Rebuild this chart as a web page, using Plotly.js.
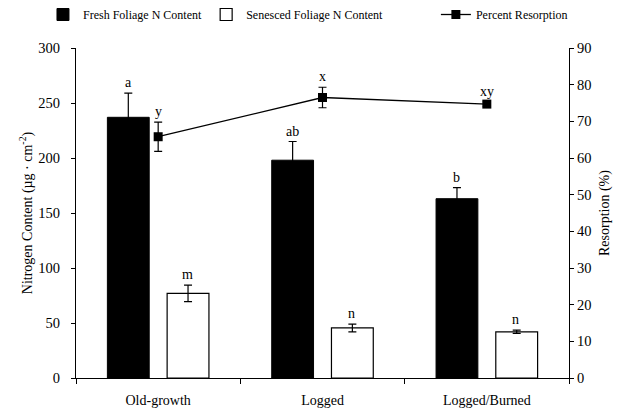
<!DOCTYPE html>
<html>
<head>
<meta charset="utf-8">
<script src="https://cdn.plot.ly/plotly-3.0.1.min.js"></script>
<style>html,body{margin:0;padding:0;background:#fff;}#chart{width:626px;height:410px;}</style>
</head>
<body>
<div id="chart"></div>
<script>
var categories = ['Old-growth', 'Logged', 'Logged/Burned'];
var freshN = [237, 198, 163];
var freshErr = [22, 17, 10];
var senescedN = [77, 45.5, 42];
var senescedErr = [7.5, 3.5, 1.5];
var resorption = [65.8, 76.5, 74.7];
var resorptionErr = [4, 2.8, 0.6];
var freshLetters = ['a', 'ab', 'b'];
var senescedLetters = ['m', 'n', 'n'];
var resorptionLetters = ['y', 'x', 'xy'];

var FONT = '"Liberation Serif", "Times New Roman", serif';

var traces = [
  {
    type: 'bar', name: 'Fresh Foliage N Content', x: categories, y: freshN, legend: 'legend',
    marker: {color: '#000', line: {color: '#000', width: 1}},
    error_y: {type: 'data', array: freshErr, visible: true, color: '#000', thickness: 1.2, width: 4}
  },
  {
    type: 'bar', name: 'Senesced Foliage N Content', x: categories, y: senescedN, legend: 'legend2',
    marker: {color: '#fff', line: {color: '#000', width: 1.2}},
    error_y: {type: 'data', array: senescedErr, visible: true, color: '#000', thickness: 1.2, width: 4}
  },
  {
    type: 'scatter', mode: 'lines+markers', name: 'Percent Resorption', x: categories, y: resorption,
    yaxis: 'y2', legend: 'legend3',
    line: {color: '#000', width: 1.3},
    marker: {symbol: 'square', size: 9, color: '#000'},
    error_y: {type: 'data', array: resorptionErr, visible: true, color: '#000', thickness: 1.2, width: 4}
  }
];

var annotations = [];
function addLetters(letters, yv, err, xshift, yref) {
  for (var i = 0; i < categories.length; i++) {
    annotations.push({
      x: categories[i], y: yv[i] + err[i], xref: 'x', yref: yref,
      text: letters[i], showarrow: false, xshift: xshift, yanchor: 'bottom', yshift: 1,
      font: {family: FONT, size: 14, color: '#000'}
    });
  }
}
addLetters(freshLetters, freshN, freshErr, -30, 'y');
addLetters(senescedLetters, senescedN, senescedErr, 29, 'y');
addLetters(resorptionLetters, resorption, resorptionErr, 0, 'y2');

function leg(x) {
  return {orientation: 'h', x: x, xanchor: 'left', y: 1.0, yanchor: 'top', xref: 'paper', yref: 'container',
    font: {family: FONT, size: 12, color: '#000'}, itemwidth: 30, bgcolor: 'rgba(0,0,0,0)', borderwidth: 0};
}

var layout = {
  width: 626, height: 410,
  margin: {l: 76, r: 57, t: 48, b: 32},
  paper_bgcolor: '#fff', plot_bgcolor: '#fff',
  font: {family: FONT, size: 14, color: '#000'},
  barmode: 'group', bargap: 0.273, bargroupgap: 0.3,
  showlegend: true,
  legend: leg(-0.067),
  legend2: leg(0.264),
  legend3: leg(0.73),
  xaxis: {
    type: 'category', showline: true, linecolor: '#000', linewidth: 1,
    ticks: 'outside', tickson: 'boundaries', ticklen: 5, tickcolor: '#000',
    showgrid: false, zeroline: false, ticklabelstandoff: 9,
    tickfont: {family: FONT, size: 14, color: '#000'}
  },
  yaxis: {
    range: [0, 300], dtick: 50, showline: true, linecolor: '#000', linewidth: 1,
    ticks: 'outside', ticklen: 4, tickcolor: '#000', showgrid: false, zeroline: false,
    ticklabelstandoff: 8,
    tickfont: {family: FONT, size: 14.5, color: '#000'},
    title: {text: 'Nitrogen Content (µg · cm<sup>-2</sup>)', font: {family: FONT, size: 14, color: '#000'}, standoff: 2}
  },
  yaxis2: {
    overlaying: 'y', side: 'right', range: [0, 90], dtick: 10, showline: true, linecolor: '#000', linewidth: 1,
    ticks: 'outside', ticklen: 4, tickcolor: '#000', showgrid: false, zeroline: false,
    tickfont: {family: FONT, size: 14.5, color: '#000'},
    title: {text: 'Resorption (%)', font: {family: FONT, size: 14, color: '#000'}, standoff: 8}
  },
  annotations: annotations
};

Plotly.newPlot('chart', traces, layout, {displayModeBar: false, staticPlot: true});
</script>
</body>
</html>
